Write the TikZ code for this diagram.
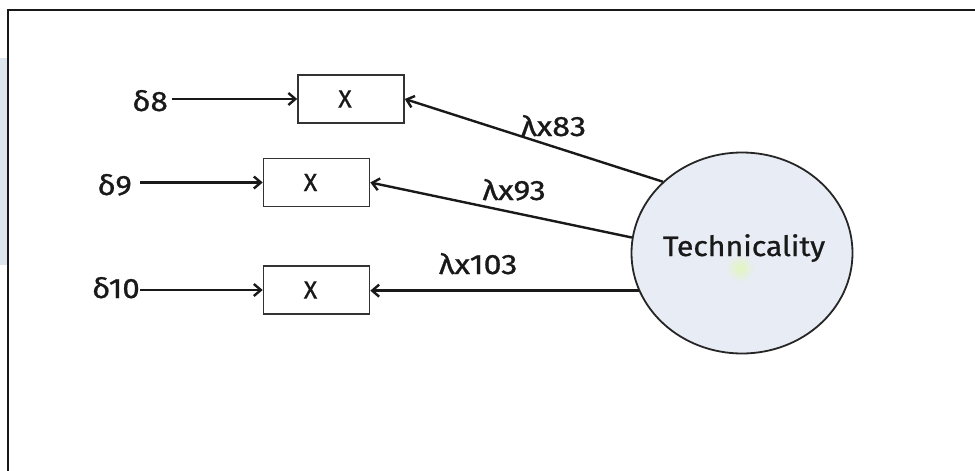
\documentclass[tikz,border=0pt]{standalone}
\usepackage{fontspec}
\usepackage{graphicx}
\setmainfont{Fira Sans}[FakeBold=0.8]
\usetikzlibrary{arrows.meta,shapes.geometric}
\definecolor{ovalfill}{RGB}{232,236,244}
\definecolor{stripblue}{RGB}{222,230,237}
\definecolor{spotgreen}{RGB}{226,246,190}
\definecolor{ink}{RGB}{25,25,25}
\begin{document}
\begin{tikzpicture}[x=1pt,y=-1pt,
  lbl/.style={font=\fontsize{28}{32}\selectfont, text=ink, inner sep=0pt, anchor=base},
  obsbox/.style={draw=black!80, line width=1.6pt, fill=white, minimum width=106pt,
    minimum height=48pt, inner sep=0pt, font=\fontsize{25}{29}\selectfont, text=ink},
  latent/.style={ellipse, draw=black!85, line width=1.8pt, fill=ovalfill,
    minimum width=221pt, minimum height=201pt, inner sep=0pt},
  link/.style={line width=2.4pt, draw=ink, -{Straight Barb[length=7pt,width=12pt]}},
]
\useasboundingbox (0,0) rectangle (975,471);
% page frame and side strip
\fill[stripblue] (0,58) rectangle (7,265);
\draw[line width=2pt, ink] (8,700) -- (8,10) -- (1200,10);

% observed indicators
\node[obsbox] (x1) at (351,99) {X\hspace*{12pt}};
\node[obsbox] (x2) at (316.5,182.5) {X\hspace*{12pt}};
\node[obsbox] (x3) at (316.5,290) {X\hspace*{12pt}};

% latent construct
\node[latent] (tech) at (742,253) {};
\shade[inner color=spotgreen, outer color=ovalfill] (740,268) circle (14);
\node[lbl] (techlbl) at (744,256) {\scalebox{1.08}[1]{Technicality}};

% error terms
\node[lbl, anchor=base east] (d8) at (168,111) {\scalebox{1.12}[1]{δ8}};
\node[lbl, anchor=base east] (d9) at (132,195) {\scalebox{1.12}[1]{δ9}};
\node[lbl, anchor=base east] (d10) at (140,298) {\scalebox{1.12}[1]{δ10}};

\draw[link] ([xshift=4pt]d8.east |- x1.west) -- (x1.west);
\draw[link] ([xshift=8pt]d9.east |- x2.west) -- (x2.west);
\draw[link] (d10.east |- x3.west) -- (x3.west);

% loadings
\draw[link] (tech.138) -- (x1.east);
\draw[link] (tech.172) -- (x2.east);
\draw[link] (tech.200) -- (tech.200 -| x3.east);

\node[lbl] (l83) at (553.5,136) {\scalebox{1.15}[1]{λx83}};
\node[lbl] (l93) at (514,200) {\scalebox{1.15}[1]{λx93}};
\node[lbl] (l103) at (478,274) {\scalebox{1.15}[1]{λx103}};
\end{tikzpicture}
\end{document}
